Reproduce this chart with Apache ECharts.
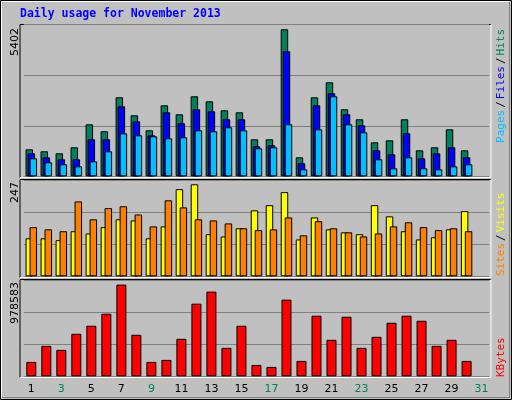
<!DOCTYPE html><html><head><meta charset="utf-8">
<script src="https://cdn.jsdelivr.net/npm/echarts@6/dist/echarts.min.js"></script>
<style>html,body{margin:0;padding:0;background:#c0c0c0}#c{width:512px;height:400px}</style></head><body><div id="c"></div>
<script>
const days = ['1','2','3','4','5','6','7','8','9','10','11','12','13','14','15','16','17','18','19','20','21','22','23','24','25','26','27','28','29','30','31'];
const weekend = ['2','3','9','10','16','17','23','24','30','31'];
const hits = [992,919,845,1066,1911,1654,2903,2242,1690,2609,2278,2940,2756,2425,2352,1360,1360,5402,698,2903,3454,2462,2095,1249,1323,2095,955,1066,1727,955,null];
const files = [845,698,625,625,1360,1360,2572,2021,1507,2352,1948,2462,2389,2095,2095,1102,1139,4594,478,2609,3050,2278,1874,955,808,1580,661,845,1066,698,null];
const pages = [661,514,441,367,551,919,1580,1507,1470,1396,1433,1690,1654,1801,1690,1029,1066,1911,257,1727,2940,1911,1617,625,294,698,294,257,367,441,null];
const visits = [102,102,97,121,115,132,153,150,102,134,234,247,113,107,129,177,191,226,99,158,126,118,113,191,161,121,99,105,126,175,null];
const sites = [132,126,121,201,153,183,188,166,134,204,185,153,150,142,129,124,126,158,110,148,129,118,107,115,134,145,132,124,129,121,null];
const kbytes = [153553,324961,282109,453517,539221,667777,978583,442804,153553,174979,399952,774907,903463,303535,539221,121414,99988,817759,164266,646351,389239,635638,303535,421378,571360,646351,592786,324961,389239,164266,null];
const maxLabels = ['5402','247','978583'];

const ch = echarts.init(document.getElementById('c'));
const L=23.8, R=22.9;
const grids=[{left:L,right:R,top:24.7,height:151.6},{left:L,right:R,top:180.3,height:96},{left:L,right:R,top:280.3,height:96}];
const maxes=[5402*151.6/147, 247*96/92, 978583*96/91.7];
const bs={borderColor:'#000',borderWidth:1};
function xa(i){return {type:'category',gridIndex:i,data:days,boundaryGap:true,axisLine:{show:false},axisTick:{show:false},
  axisLabel:{show:i===2,margin:7,fontFamily:'DejaVu Sans',fontSize:11,color:(v)=>weekend.includes(v)?'#00805c':'#000'}};}
function ya(i){return {type:'value',gridIndex:i,min:0,max:maxes[i],interval:maxes[i]/3,axisLine:{show:false},axisTick:{show:false},axisLabel:{show:false},
  splitLine:{show:true,lineStyle:{color:'#808080',width:1}}};}
function frame(g,y0,y1){const x0=20,x1=491;return [
  {type:'line',shape:{x1:x0,y1:y0,x2:x1,y2:y0},style:{stroke:'#000',lineWidth:1}},
  {type:'line',shape:{x1:x0,y1:y0,x2:x0,y2:y1},style:{stroke:'#000',lineWidth:1}},
  {type:'line',shape:{x1:x0,y1:y1,x2:x1,y2:y1},style:{stroke:'#fff',lineWidth:1}},
  {type:'line',shape:{x1:x1,y1:y0,x2:x1,y2:y1},style:{stroke:'#fff',lineWidth:1}}];}
const mono='DejaVu Sans Mono';
ch.setOption({
  animation:false,backgroundColor:'#c0c0c0',
  grid:grids,xAxis:[xa(0),xa(1),xa(2)],yAxis:[ya(0),ya(1),ya(2)],
  series:[
    {type:'bar',xAxisIndex:0,yAxisIndex:0,data:hits,barWidth:7.5,barGap:'-73%',itemStyle:{color:'#00805c',...bs}},
    {type:'bar',xAxisIndex:0,yAxisIndex:0,data:files,barWidth:7.5,barGap:'-73%',itemStyle:{color:'#0000ff',...bs}},
    {type:'bar',xAxisIndex:0,yAxisIndex:0,data:pages,barWidth:7.5,barGap:'-73%',itemStyle:{color:'#00c0ff',...bs}},
    {type:'bar',xAxisIndex:1,yAxisIndex:1,data:visits,barWidth:7.5,barGap:'-47%',itemStyle:{color:'#ffff00',...bs}},
    {type:'bar',xAxisIndex:1,yAxisIndex:1,data:sites,barWidth:7.5,barGap:'-47%',itemStyle:{color:'#ff8000',...bs}},
    {type:'bar',xAxisIndex:2,yAxisIndex:2,data:kbytes,barWidth:10,itemStyle:{color:'#ff0000',...bs}}
  ],
  graphic:[
    {type:'rect',shape:{x:0.5,y:0.5,width:511,height:399},style:{fill:'none',stroke:'#000',lineWidth:1},silent:true},
    {type:'line',shape:{x1:1.5,y1:1.5,x2:510,y2:1.5},style:{stroke:'#fff'}},
    {type:'line',shape:{x1:1.5,y1:1.5,x2:1.5,y2:398},style:{stroke:'#fff'}},
    {type:'line',shape:{x1:1.5,y1:397.5,x2:510,y2:397.5},style:{stroke:'#808080'}},
    {type:'line',shape:{x1:509.5,y1:1.5,x2:509.5,y2:398},style:{stroke:'#808080'}},
    ...frame(0,24.5,177.5),...frame(1,179.5,277.5),...frame(2,279.5,377.5),
    {type:'text',left:20,top:8,style:{text:'Daily usage for November 2013',fill:'#0000ff',font:'bold 11.5px "'+mono+'"'}},
    {type:'text',x:15,y:28,rotation:Math.PI/2,style:{text:maxLabels[0],fill:'#000',font:'11px "DejaVu Sans"',align:'right',verticalAlign:'middle'}},
    {type:'text',x:15,y:182,rotation:Math.PI/2,style:{text:maxLabels[1],fill:'#000',font:'11px "DejaVu Sans"',align:'right',verticalAlign:'middle'}},
    {type:'text',x:15,y:282,rotation:Math.PI/2,style:{text:maxLabels[2],fill:'#000',font:'11px "DejaVu Sans"',align:'right',verticalAlign:'middle'}},
    {type:'text',x:501,y:29,rotation:Math.PI/2,style:{text:'{p|Pages}{s|/}{f|Files}{s|/}{h|Hits}',align:'right',verticalAlign:'middle',font:'11px "'+mono+'"',
      rich:{p:{fill:'#00c0ff',font:'11px "'+mono+'"'},f:{fill:'#0000ff',font:'11px "'+mono+'"'},h:{fill:'#00805c',font:'11px "'+mono+'"'},s:{fill:'#000',font:'11px "'+mono+'"',padding:[0,2]}}}},
    {type:'text',x:501,y:276,rotation:Math.PI/2,style:{text:'{o|Sites}{s|/}{y|Visits}',align:'left',verticalAlign:'middle',font:'11px "'+mono+'"',
      rich:{o:{fill:'#ff8000',font:'11px "'+mono+'"'},y:{fill:'#ffff00',font:'11px "'+mono+'"'},s:{fill:'#000',font:'11px "'+mono+'"',padding:[0,2]}}}},
    {type:'text',x:501,y:377,rotation:Math.PI/2,style:{text:'KBytes',fill:'#ff0000',align:'left',verticalAlign:'middle',font:'11px "'+mono+'"'}}
  ]
});
</script></body></html>
